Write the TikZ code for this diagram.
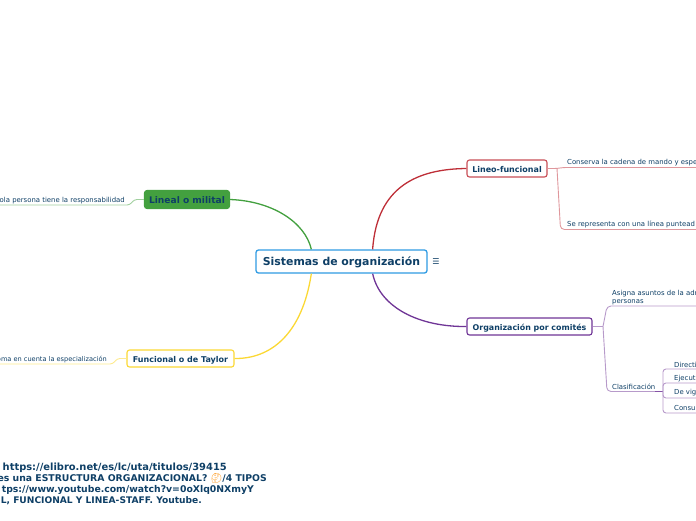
\documentclass[tikz,border=0pt]{standalone}
\usepackage{fontspec}
\setmainfont{DejaVu Sans}
\newfontfamily\emojifont{Noto Emoji}
\usepackage{xcolor}
\usetikzlibrary{calc}
\definecolor{inkblue}{HTML}{0E3F66}
\definecolor{rootblue}{HTML}{2F9BE3}
\definecolor{leafgreen}{HTML}{43A03F}
\definecolor{sunyellow}{HTML}{FBD834}
\definecolor{brickred}{HTML}{BE2F38}
\definecolor{plum}{HTML}{6F3596}

\begin{document}
\begin{tikzpicture}[x=1pt, y=-1pt, line join=round,
		topic/.style={draw, line width=1.1pt, rounded corners=2.5pt, fill=white, inner sep=0pt, text height=1.33ex, text depth=0pt, text=inkblue, font=\bfseries\fontsize{8}{10}\selectfont},
		leaf/.style={inner sep=0pt, text=inkblue, font=\fontsize{6.9}{7.8}\selectfont},
		note/.style={inner sep=0pt, anchor=base east, text=inkblue, font=\bfseries\fontsize{9.3}{10}\selectfont},
		link/.style={line width=1.3pt},
		branch/.style={line width=0.9pt, rounded corners=3pt}]
		\useasboundingbox (0,0) rectangle (696,520);
		% central topic
		\node[topic, draw=rootblue, line width=1.3pt, minimum width=171pt, minimum height=23pt, font=\bfseries\fontsize{10.9}{12}\selectfont] (Root) at (341.5,261.5) {Sistemas de organización};
		\node[inner sep=0pt, text=inkblue, font=\fontsize{8}{10}\selectfont] (Menu) at (436,262) {☰};
		% main topics
		\node[topic, draw=leafgreen, fill=leafgreen, minimum width=85pt, minimum height=18pt, font=\bfseries\fontsize{9.1}{10}\selectfont] (Lineal) at (187,199.5) {Lineal o milital};
		\node[topic, draw=sunyellow, minimum width=107pt, minimum height=17pt] (Taylor) at (180.5,358.5) {Funcional o de Taylor};
		\node[topic, draw=brickred!85, minimum width=80pt, minimum height=17pt] (Lineo) at (507,168.5) {Lineo-funcional};
		\node[topic, draw=plum, minimum width=125pt, minimum height=17pt, font=\bfseries\fontsize{7.9}{9}\selectfont] (Comites) at (529.5,326.5) {Organización por comités};
		% curves from the central topic
		\coordinate (RootNW) at ($(Root.north west)+(56,0)$);
		\coordinate (RootNE) at ($(Root.north east)+(-55,0)$);
		\coordinate (RootSW) at ($(Root.south west)+(56,0)$);
		\coordinate (RootSE) at ($(Root.south east)+(-55,0)$);
		\draw[link, leafgreen] (RootNW) .. controls (305,222) and (272,201) .. (Lineal.east);
		\draw[link, sunyellow] (RootSW) .. controls (302,335) and (270,359) .. (Taylor.east);
		\draw[link, brickred] (RootNE) .. controls (377,186) and (418,169) .. (Lineo.west);
		\draw[link, plum] (RootSE) .. controls (380,308) and (420,327) .. (Comites.west);
		% left leaves
		\node[leaf, anchor=east] (Sola) at (125,200.5) {ola persona tiene la responsabilidad};
		\node[leaf, anchor=east, font=\fontsize{6.6}{7.8}\selectfont] (Toma) at (107,360) {oma en cuenta la especialización};
		\coordinate (SolaEnd) at (-2,205);
		\coordinate (TomaEnd) at (-2,364);
		\draw[branch, leafgreen!50] (Lineal.west) -- (134,199.5) -- (130,205) -- (SolaEnd);
		\draw[branch, sunyellow!55] (Taylor.west) -- (117,358.5) -- (113,364) -- (TomaEnd);
		% right leaves of the red topic
		\node[leaf, anchor=west] (Conserva) at (567,162.5) {Conserva la cadena de mando y espe};
		\node[leaf, anchor=west] (Punteada) at (567,224.5) {Se representa con una línea puntead};
		\coordinate (Fork) at (557,168.5);
		\coordinate (ConservaEnd) at (698,167.5);
		\coordinate (PunteadaEnd) at (698,229.5);
		\draw[branch, brickred!50] (Lineo.east) -- (Fork) -- (563,167.5) -- (ConservaEnd);
		\draw[branch, brickred!50, rounded corners=4pt] (Fork) -- (560.5,229.5) -- (PunteadaEnd);
		% right leaves of the purple topic
		\node[leaf, anchor=west, align=left] (Asigna) at (612,297.5) {Asigna asuntos de la admi\\personas};
		\node[leaf, anchor=west] (Clase) at (612,386.5) {Clasificación};
		\coordinate (Split) at (603,326.5);
		\coordinate (AsignaEnd) at (698,306);
		\coordinate (ClaseEnd) at (655,391.5);
		\coordinate (Knot) at (663,391.5);
		\draw[branch, plum!50] (Comites.east) -- (Split);
		\draw[branch, plum!50, rounded corners=4pt] (Split) -- (607,306) -- (AsignaEnd);
		\draw[branch, plum!50, rounded corners=4pt] (Split) -- (607,391.5) -- (ClaseEnd);
		\draw[link, plum!85] (ClaseEnd) -- (Knot);
		% committee types
		\node[leaf, anchor=west] (Directiva) at (674,364.5) {Directiv};
		\node[leaf, anchor=west] (Ejecutiva) at (674,378.5) {Ejecutiv};
		\node[leaf, anchor=west] (Vigila) at (674,393) {De vigil};
		\node[leaf, anchor=west] (Consulta) at (674,407.5) {Consult};
		\draw[branch, plum!50] (698,369) -- (663,369) -- (Knot);
		\draw[branch, plum!50] (698,383) -- (663,383) -- (Knot);
		\draw[branch, plum!50] (Knot) -- (663,398) -- (698,398);
		\draw[branch, plum!50] (Knot) -- (663,413) -- (698,413);
		% bottom note
		\node[note, font=\bfseries\fontsize{9.9}{10}\selectfont] (LineA) at (227,470.5) {. https://elibro.net/es/lc/uta/titulos/39415};
		\node[note] (LineB) at (267,481.5) {es una ESTRUCTURA ORGANIZACIONAL? {\emojifont\textcolor{orange!90!yellow}{🤔}}/4 TIPOS};
		\node[note] (LineC) at (254,492.5) {tps://www.youtube.com/watch?v=0oXlq0NXmyY};
		\node[note, font=\bfseries\fontsize{9.1}{10}\selectfont] (LineD) at (202,503.5) {L, FUNCIONAL Y LINEA-STAFF. Youtube.};
	\end{tikzpicture}
\end{document}
